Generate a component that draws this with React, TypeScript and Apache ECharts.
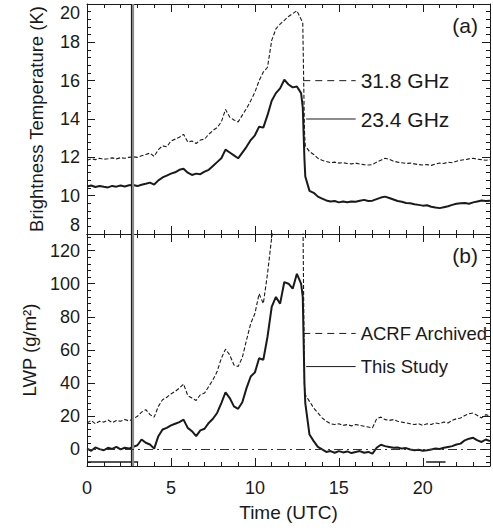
import React, { useEffect, useRef } from "react";
import * as echarts from "echarts";

// ---- data ----
const times = [
  0, 0.25, 0.5, 0.75, 1, 1.25, 1.5, 1.75, 2, 2.25, 2.5, 2.75,
  3, 3.25, 3.5, 3.75, 4, 4.25, 4.5, 4.75, 5, 5.25, 5.5, 5.75,
  6, 6.25, 6.5, 6.75, 7, 7.25, 7.5, 7.75, 8, 8.25, 8.5, 8.75,
  9, 9.25, 9.5, 9.75, 10, 10.25, 10.5, 10.75, 11, 11.25, 11.5, 11.75,
  12, 12.25, 12.5, 12.75, 12.85, 12.95,
  13, 13.25, 13.5, 13.75, 14, 14.25, 14.5, 14.75, 15, 15.25, 15.5, 15.75,
  16, 16.25, 16.5, 16.75, 17, 17.25, 17.5, 17.75, 18, 18.25, 18.5, 18.75,
  19, 19.25, 19.5, 19.75, 20, 20.25, 20.5, 20.75, 21, 21.25, 21.5, 21.75,
  22, 22.25, 22.5, 22.75, 23, 23.25, 23.5, 23.75, 24,
];

const tb23 = [
  10.48, 10.53, 10.45, 10.5, 10.46, 10.43, 10.51, 10.47, 10.53, 10.48, 10.54, 10.56,
  10.5, 10.57, 10.62, 10.68, 10.58, 10.8, 10.95, 11.05, 11.15, 11.22, 11.35, 11.4,
  11.2, 11.08, 11.15, 11.12, 11.25, 11.35, 11.55, 11.75, 11.95, 12.4, 12.25, 12.1,
  11.95, 12.25, 12.55, 12.9, 13.15, 13.6, 13.55, 14.2, 14.95, 15.35, 15.6, 16.05,
  15.8, 15.65, 15.7, 15.35, 14.6, 11.9,
  11.0, 10.25, 10.15, 9.95, 9.85, 9.75, 9.7, 9.72, 9.65, 9.7, 9.66, 9.7,
  9.68, 9.73, 9.78, 9.72, 9.74, 9.82, 9.9, 9.95, 9.88, 9.8, 9.72, 9.68,
  9.62, 9.6, 9.55, 9.52, 9.48, 9.5, 9.42, 9.38, 9.35, 9.4, 9.45, 9.52,
  9.58, 9.6, 9.62, 9.58, 9.65, 9.7, 9.75, 9.72, 9.74,
];

const tb31 = [
  11.85, 11.92, 11.88, 11.95, 11.9, 11.93, 11.97, 11.92, 11.98, 11.95, 12.0, 12.03,
  12.0, 12.08, 12.15, 12.22, 12.05, 12.4, 12.6, 12.55, 12.85, 12.95, 13.05, 13.2,
  12.8, 12.85, 12.72, 12.9, 12.95, 13.2, 13.4, 13.55, 13.85, 14.5, 14.1, 13.95,
  13.85, 14.2, 14.55, 14.95, 15.4, 16.0, 16.45, 16.7, 18.1, 18.7, 18.95, 19.15,
  19.35, 19.5, 19.65, 19.2, 19.0, 13.4,
  12.6, 12.3, 12.15, 11.95, 11.85, 11.78, 11.72, 11.75, 11.7, 11.72, 11.68, 11.66,
  11.7, 11.65, 11.62, 11.6, 11.62, 11.75, 11.85, 11.95, 11.9, 11.8, 11.75, 11.72,
  11.68, 11.7, 11.66, 11.62, 11.6, 11.62, 11.58, 11.65, 11.7, 11.68, 11.75, 11.72,
  11.8, 11.85, 11.88, 11.92, 11.95, 11.9, 11.88, 11.85, 11.88,
];

const lwpThisStudy = [
  0.5, -0.8, 1.2, 0.2, -0.5, 1.0, 0.3, 1.5, 0.0, 1.0, 0.5, 1.5,
  2.5, 6.0, 4.0, 3.0, 0.5, 8.0, 12.0, 13.0, 14.5, 15.5, 16.5, 18.0,
  13.0, 11.0, 8.0, 11.5, 12.5, 16.0, 18.5, 22.0, 28.0, 34.5, 31.0, 26.0,
  24.5, 28.5, 37.0, 44.0, 46.5, 55.0, 54.0, 68.0, 86.0, 92.0, 88.0, 101.0,
  100.0, 97.0, 106.0, 100.0, 92.0, 40.0,
  28.0, 9.0, 5.0, 1.5, 0.0, -1.5, -1.0, -2.0, -1.0, -1.8, -1.2, -2.2,
  -1.5, -1.0, -2.0, -1.5, -2.5, 1.0, 2.8, 2.0, 1.5, 1.0, 1.2, 0.5,
  0.8, 0.0, -0.5, -0.2, -0.8, -0.5, 0.0, 0.5, 0.3, 1.0, 1.5, 2.0,
  3.0, 3.5, 5.5, 6.5, 7.0, 5.5, 4.5, 6.0, 5.0,
];

const lwpArchived = [
  16.0, 17.5, 15.5, 17.0, 16.5, 17.8, 16.2, 17.5, 17.0, 18.0, 17.2, 18.5,
  20.0, 22.5, 24.0, 21.0, 19.5, 26.0, 30.0, 31.5, 33.5, 35.0, 37.0, 39.5,
  32.5, 31.0, 29.5, 33.0, 34.0, 38.0, 42.0, 47.0, 55.0, 60.5, 57.0, 51.0,
  50.0, 55.5, 66.0, 76.0, 82.0, 94.0, 88.0, 106.0, 128.0, 140.0, 148.0, 152.0,
  156.0, 158.0, 160.0, 156.0, 150.0, 38.0,
  33.0, 29.0, 25.0, 22.0, 19.0, 17.0, 15.5, 15.0, 15.5, 14.5, 15.0, 14.2,
  15.0, 14.5, 14.0, 13.5, 13.0, 18.5, 19.5, 18.0, 17.5, 18.0, 17.0, 16.5,
  16.0, 15.5, 15.0, 15.5, 14.5, 15.5, 15.0, 16.0, 15.5, 16.5, 16.0, 17.5,
  18.5, 19.0, 20.5, 21.5, 22.0, 20.5, 19.0, 21.0, 20.0,
];

// legend key lines: [startTime, endTime, level]
const tbKeyDashed = [12.88, 16.0, 16];
const tbKeySolid = [13.05, 16.0, 14];
const lwpKeyDashed = [12.88, 16.0, 70];
const lwpKeySolid = [13.05, 16.0, 50];

// marker times / levels
const instrumentLine = [2.61, 2.7];
const flagSegments = [
  [0, 3.05],
  [20.2, 21.35],
];
const flagLevel = -7.6;

// axis ticks
const xMajor = [0, 5, 10, 15, 20];
const xMinor = [1, 2, 3, 4, 6, 7, 8, 9, 11, 12, 13, 14, 16, 17, 18, 19, 21, 22, 23];
const tbMajor = [8, 10, 12, 14, 16, 18, 20];
const tbMinor = [8.4, 8.8, 9.2, 9.6, 10.4, 10.8, 11.2, 11.6, 12.4, 12.8, 13.2, 13.6, 14.4, 14.8, 15.2, 15.6, 16.4, 16.8, 17.2, 17.6, 18.4, 18.8, 19.2, 19.6];
const lwpMajor = [0, 20, 40, 60, 80, 100, 120];
const lwpMinor = [-8, -4, 4, 8, 12, 16, 24, 28, 32, 36, 44, 48, 52, 56, 64, 68, 72, 76, 84, 88, 92, 96, 104, 108, 112, 116, 124, 128];

const FONT = "'Liberation Sans', Arial, Helvetica, sans-serif";
const INK = "#1a1a1a";

function pairs(xs: number[], ys: number[]) {
  return xs.map((x, i) => [x, ys[i]]);
}

function xAxisPair(gridIndex: number, ticks: number[], len: number, major: boolean, labels: boolean) {
  return ["bottom", "top"].map((position) => ({
    type: "value",
    gridIndex,
    min: 0,
    max: 24,
    position,
    name: labels && position === "bottom" ? "Time (UTC)" : "",
    nameLocation: "middle",
    nameGap: 37,
    nameTextStyle: { fontFamily: FONT, fontSize: 19, color: INK },
    axisLine: { show: major, onZero: false, lineStyle: { color: INK, width: 1 } },
    axisTick: { show: true, inside: true, length: len, customValues: ticks, lineStyle: { color: INK, width: 1 } },
    axisLabel: {
      show: labels && position === "bottom",
      customValues: ticks,
      margin: 13,
      fontFamily: FONT,
      fontSize: 18,
      color: INK,
    },
    splitLine: { show: false },
  }));
}

function yAxisPair(
  gridIndex: number,
  min: number,
  max: number,
  ticks: number[],
  len: number,
  major: boolean,
  name: string,
  insetEnds: boolean
) {
  return ["left", "right"].map((position) => ({
    type: "value",
    gridIndex,
    min,
    max,
    position,
    name: major && position === "left" ? name : "",
    nameLocation: "middle",
    nameRotate: 90,
    nameGap: 41,
    nameTextStyle: { fontFamily: FONT, fontSize: 18.5, color: INK },
    axisLine: { show: major, onZero: false, lineStyle: { color: INK, width: 1 } },
    axisTick: { show: true, inside: true, length: len, customValues: ticks, lineStyle: { color: INK, width: 1 } },
    axisLabel: {
      show: major && position === "left",
      customValues: ticks,
      margin: 7,
      fontFamily: FONT,
      fontSize: 18,
      color: INK,
      ...(insetEnds ? { verticalAlignMinLabel: "bottom", verticalAlignMaxLabel: "top" } : {}),
    },
    splitLine: { show: false },
  }));
}

function keySeries(key: number[], dashed: boolean, label: string, xi: number, yi: number, fontSize: number) {
  return {
    type: "line",
    xAxisIndex: xi,
    yAxisIndex: yi,
    data: [
      [key[0], key[2]],
      [key[1], key[2]],
    ],
    showSymbol: false,
    silent: true,
    lineStyle: { color: INK, width: 1, type: dashed ? [7, 5] : "solid" },
    endLabel: {
      show: true,
      formatter: label,
      distance: 5,
      fontFamily: FONT,
      fontSize,
      color: INK,
    },
    z: 3,
  };
}

const instrumentMarks = {
  silent: true,
  symbol: "none",
  label: { show: false },
  data: [
    { xAxis: instrumentLine[0], lineStyle: { color: "#111", width: 1.2, type: "solid" } },
    { xAxis: instrumentLine[1], lineStyle: { color: "#8a8a8a", width: 2.2, type: "solid" } },
  ],
};

export default function App() {
  const ref = useRef<HTMLDivElement>(null);

  useEffect(() => {
    if (!ref.current) return;
    const chart = echarts.init(ref.current, null, { renderer: "svg" });

    const gridBase = { left: 87, right: 3, outerBoundsMode: "none", containLabel: false };
    const grids = [
      { ...gridBase, top: 4, height: 230 },
      { ...gridBase, top: 234, height: 232 },
      { ...gridBase, top: 4, height: 230 },
      { ...gridBase, top: 234, height: 232 },
    ];

    const xAxes = [
      ...xAxisPair(0, xMajor, 8, true, false),
      ...xAxisPair(1, xMajor, 8, true, true),
      ...xAxisPair(2, xMinor, 4, false, false),
      ...xAxisPair(3, xMinor, 4, false, false),
    ];
    const yAxes = [
      ...yAxisPair(0, 8, 20, tbMajor, 8, true, "Brightness Temperature (K)", true),
      ...yAxisPair(1, -10, 130, lwpMajor, 8, true, "LWP (g/m\u00B2)", false),
      ...yAxisPair(2, 8, 20, tbMinor, 4, false, "", false),
      ...yAxisPair(3, -10, 130, lwpMinor, 4, false, "", false),
    ];

    const series: any[] = [
      {
        type: "line",
        name: "31.8 GHz",
        xAxisIndex: 0,
        yAxisIndex: 0,
        data: pairs(times, tb31),
        showSymbol: false,
        lineStyle: { color: INK, width: 1.1, type: [4, 2] },
        markLine: instrumentMarks,
      },
      {
        type: "line",
        name: "23.4 GHz",
        xAxisIndex: 0,
        yAxisIndex: 0,
        data: pairs(times, tb23),
        showSymbol: false,
        lineStyle: { color: INK, width: 2 },
      },
      keySeries(tbKeyDashed, true, "31.8 GHz", 0, 0, 21),
      keySeries(tbKeySolid, false, "23.4 GHz", 0, 0, 21),
      {
        type: "line",
        name: "ACRF Archived",
        xAxisIndex: 2,
        yAxisIndex: 2,
        data: pairs(times, lwpArchived),
        showSymbol: false,
        lineStyle: { color: INK, width: 1.1, type: [4, 2] },
        markLine: instrumentMarks,
      },
      {
        type: "line",
        name: "This Study",
        xAxisIndex: 2,
        yAxisIndex: 2,
        data: pairs(times, lwpThisStudy),
        showSymbol: false,
        lineStyle: { color: INK, width: 2 },
        markLine: {
          silent: true,
          symbol: "none",
          label: { show: false },
          data: [{ yAxis: 0, lineStyle: { color: "#333", width: 1, type: [9, 4, 2, 4] } }],
        },
      },
      keySeries(lwpKeyDashed, true, "ACRF Archived", 2, 2, 18.5),
      keySeries(lwpKeySolid, false, "This Study", 2, 2, 18.5),
      ...flagSegments.map((seg) => ({
        type: "line",
        xAxisIndex: 2,
        yAxisIndex: 2,
        data: [
          [seg[0], flagLevel],
          [seg[1], flagLevel],
        ],
        showSymbol: false,
        silent: true,
        lineStyle: { color: INK, width: 1.6 },
      })),
    ];

    chart.setOption({
      animation: false,
      backgroundColor: "#ffffff",
      textStyle: { fontFamily: FONT },
      grid: grids,
      xAxis: xAxes,
      yAxis: yAxes,
      series,
      graphic: [
        {
          type: "text",
          x: 478,
          y: 25,
          style: { text: "(a)", align: "right", verticalAlign: "middle", fontFamily: FONT, fontSize: 21, fill: INK },
        },
        {
          type: "text",
          x: 478,
          y: 255,
          style: { text: "(b)", align: "right", verticalAlign: "middle", fontFamily: FONT, fontSize: 21, fill: INK },
        },
      ],
    });

    return () => chart.dispose();
  }, []);

  return (
    <div
      ref={ref}
      style={{ position: "fixed", left: 0, top: 0, width: 493, height: 531, background: "#fff" }}
    />
  );
}
